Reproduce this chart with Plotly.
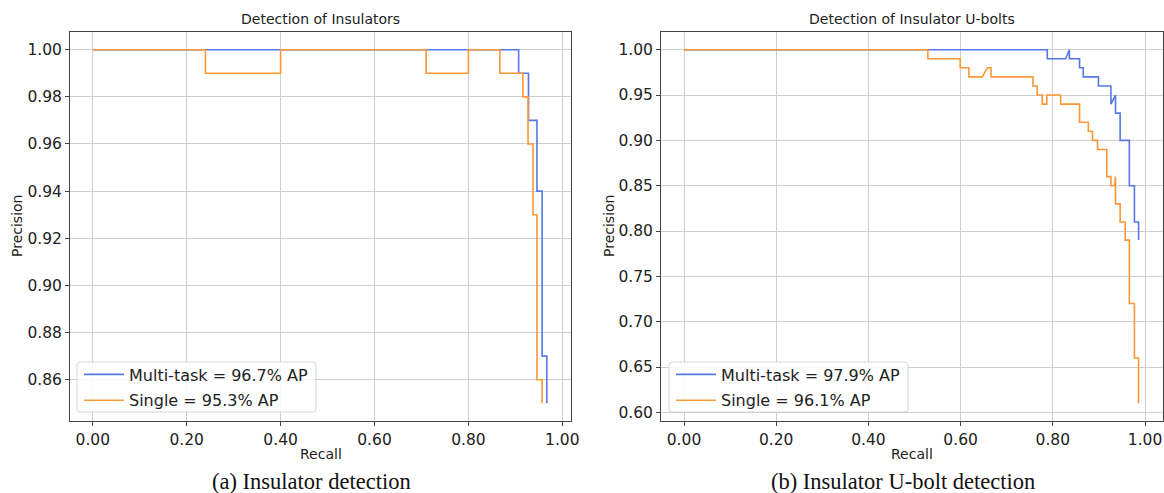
import plotly.graph_objects as go

# ---- Data: Detection of Insulators (a) ----
ins_multi_recall = [0, 0.907, 0.907, 0.928, 0.928, 0.946, 0.946, 0.957, 0.957, 0.967, 0.967]
ins_multi_prec   = [1.0, 1.0, 0.99, 0.99, 0.97, 0.97, 0.94, 0.94, 0.87, 0.87, 0.85]
ins_single_recall = [0, 0.24, 0.24, 0.40, 0.40, 0.71, 0.71, 0.80, 0.80, 0.867, 0.867, 0.916, 0.916,
                     0.927, 0.927, 0.9376, 0.9376, 0.946, 0.946, 0.957, 0.957]
ins_single_prec   = [1.0, 1.0, 0.99, 0.99, 1.0, 1.0, 0.99, 0.99, 1.0, 1.0, 0.99, 0.99, 0.98,
                     0.98, 0.96, 0.96, 0.93, 0.93, 0.86, 0.86, 0.85]

# ---- Data: Detection of Insulator U-bolts (b) ----
ub_multi_recall = [0, 0.788, 0.788, 0.828, 0.836, 0.836, 0.858, 0.858, 0.866, 0.866, 0.899, 0.899,
                   0.926, 0.926, 0.936, 0.936, 0.946, 0.946, 0.966, 0.966, 0.977, 0.977, 0.986, 0.986]
ub_multi_prec   = [1.0, 1.0, 0.99, 0.99, 1.0, 0.99, 0.99, 0.98, 0.98, 0.97, 0.97, 0.96,
                   0.96, 0.94, 0.95, 0.93, 0.93, 0.90, 0.90, 0.85, 0.85, 0.81, 0.81, 0.79]
ub_single_recall = [0, 0.529, 0.529, 0.599, 0.599, 0.618, 0.618, 0.647, 0.658, 0.666, 0.666, 0.757,
                    0.757, 0.766, 0.766, 0.777, 0.777, 0.787, 0.787, 0.817, 0.817, 0.858, 0.858,
                    0.877, 0.877, 0.886, 0.886, 0.897, 0.897, 0.917, 0.917, 0.926, 0.926, 0.934,
                    0.936, 0.936, 0.946, 0.946, 0.957, 0.957, 0.966, 0.966, 0.977, 0.977, 0.986, 0.986]
ub_single_prec   = [1.0, 1.0, 0.99, 0.99, 0.98, 0.98, 0.97, 0.97, 0.98, 0.98, 0.97, 0.97,
                    0.96, 0.96, 0.95, 0.95, 0.94, 0.94, 0.95, 0.95, 0.94, 0.94, 0.92,
                    0.92, 0.91, 0.91, 0.90, 0.90, 0.89, 0.89, 0.86, 0.86, 0.85, 0.85,
                    0.86, 0.83, 0.83, 0.81, 0.81, 0.79, 0.79, 0.72, 0.72, 0.66, 0.66, 0.61]

labels_a = ["Multi-task = 96.7% AP", "Single = 95.3% AP"]
labels_b = ["Multi-task = 97.9% AP", "Single = 96.1% AP"]
titles = ["Detection of Insulators", "Detection of Insulator U-bolts"]
captions = ["(a) Insulator detection", "(b) Insulator U-bolt detection"]
x_ticks = [0, 0.2, 0.4, 0.6, 0.8, 1.0]
y_ticks_a = [0.86, 0.88, 0.90, 0.92, 0.94, 0.96, 0.98, 1.00]
y_ticks_b = [0.60, 0.65, 0.70, 0.75, 0.80, 0.85, 0.90, 0.95, 1.00]

BLUE = "#5479e4"
ORANGE = "#ff9736"
OFF = 0  # page body margin removed by post_script
W, H = 1164, 493

fig = go.Figure()
fig.add_trace(go.Scatter(x=ins_multi_recall, y=ins_multi_prec, mode="lines", name=labels_a[0],
                         line=dict(color=BLUE, width=1.6), xaxis="x", yaxis="y",
                         legend="legend", legendgroup="a1"))
fig.add_trace(go.Scatter(x=ins_single_recall, y=ins_single_prec, mode="lines", name=labels_a[1],
                         line=dict(color=ORANGE, width=1.6), xaxis="x", yaxis="y",
                         legend="legend", legendgroup="a2"))
fig.add_trace(go.Scatter(x=ub_multi_recall, y=ub_multi_prec, mode="lines", name=labels_b[0],
                         line=dict(color=BLUE, width=1.6), xaxis="x2", yaxis="y2",
                         legend="legend2", legendgroup="b1"))
fig.add_trace(go.Scatter(x=ub_single_recall, y=ub_single_prec, mode="lines", name=labels_b[1],
                         line=dict(color=ORANGE, width=1.6), xaxis="x2", yaxis="y2",
                         legend="legend2", legendgroup="b2"))

def px_x(p):
    return (p - OFF) / W

def px_y(p):
    return 1 - (p - OFF) / H

top, bot = 32, 421
dom_a = [px_x(70), px_x(571)]
dom_b = [px_x(661), min(px_x(1163), 1.0)]
ydom = [px_y(bot), px_y(top)]

axis_common = dict(showline=True, linecolor="#444", linewidth=1, mirror=True,
                   showgrid=True, gridcolor="#cfcfcf", gridwidth=1, automargin=False,
                   ticks="outside", ticklen=4, tickcolor="#444", zeroline=False,
                   tickfont=dict(family="DejaVu Sans", size=15.5, color="#222"))

legend_common = dict(xanchor="left", yanchor="bottom", itemwidth=40,
                     bgcolor="rgba(0,0,0,0)", borderwidth=0,
                     font=dict(family="DejaVu Sans", size=16, color="#222"), tracegroupgap=2)

fig.update_layout(
    width=W, height=H,
    margin=dict(l=0, r=0, t=0, b=0, autoexpand=False),
    paper_bgcolor="white", plot_bgcolor="white",
    xaxis=dict(domain=dom_a, range=[-0.0485, 1.0185], tickvals=x_ticks, tickformat=".2f",
               anchor="y", **axis_common),
    yaxis=dict(domain=ydom, range=[0.8425, 1.0075], tickvals=y_ticks_a, tickformat=".2f",
               anchor="x", **axis_common),
    xaxis2=dict(domain=dom_b, range=[-0.0499, 1.039], tickvals=x_ticks, tickformat=".2f",
                anchor="y2", **axis_common),
    yaxis2=dict(domain=ydom, range=[0.5905, 1.0195], tickvals=y_ticks_b, tickformat=".2f",
                anchor="x2", **axis_common),
    legend=dict(x=px_x(79), y=px_y(417.5), **legend_common),
    legend2=dict(x=px_x(671), y=px_y(417.5), **legend_common),
    showlegend=True,
)

# legend frames (white rounded boxes behind the legend entries)
def rounded_box(x0, y0, x1, y1, r=3):
    X0, X1 = px_x(x0), px_x(x1)
    Y0, Y1 = px_y(y1), px_y(y0)
    rx, ry = r / W, r / H
    return (f"M{X0+rx},{Y0} L{X1-rx},{Y0} Q{X1},{Y0} {X1},{Y0+ry} L{X1},{Y1-ry} "
            f"Q{X1},{Y1} {X1-rx},{Y1} L{X0+rx},{Y1} Q{X0},{Y1} {X0},{Y1-ry} "
            f"L{X0},{Y0+ry} Q{X0},{Y0} {X0+rx},{Y0} Z")

shapes = []
for (bx0, bx1) in [(77, 316), (669, 908)]:
    shapes.append(dict(type="path", path=rounded_box(bx0, 362, bx1, 412), xref="paper", yref="paper",
                       fillcolor="rgba(255,255,255,0.85)", line=dict(color="#d6d6d6", width=1),
                       layer="above"))
fig.update_layout(shapes=shapes)

ann = []
centers = [(70 + 571) / 2, (661 + 1163) / 2]
for c, t in zip(centers, titles):
    ann.append(dict(text=t, x=px_x(c), y=px_y(19), xref="paper", yref="paper",
                    showarrow=False, xanchor="center", yanchor="middle",
                    font=dict(family="DejaVu Sans", size=14, color="#222")))
    ann.append(dict(text="Recall", x=px_x(c), y=px_y(454), xref="paper", yref="paper",
                    showarrow=False, xanchor="center", yanchor="middle",
                    font=dict(family="DejaVu Sans", size=14, color="#222")))
for xp in [17, 609]:
    ann.append(dict(text="Precision", x=px_x(xp), y=px_y(226), xref="paper", yref="paper",
                    showarrow=False, xanchor="center", yanchor="middle", textangle=-90,
                    font=dict(family="DejaVu Sans", size=14, color="#222")))
for c, t in zip([311, 903], captions):
    ann.append(dict(text=t, x=px_x(c), y=px_y(481), xref="paper", yref="paper",
                    showarrow=False, xanchor="center", yanchor="middle",
                    font=dict(family="Liberation Serif", size=22.5, color="#111")))
fig.update_layout(annotations=ann)

fig.write_html(
    "out.html",
    config={"displayModeBar": False},
    post_script=("document.documentElement.style.margin='0';document.body.style.margin='0';"
                 "document.documentElement.style.overflow='hidden';document.body.style.overflow='hidden';"),
)
